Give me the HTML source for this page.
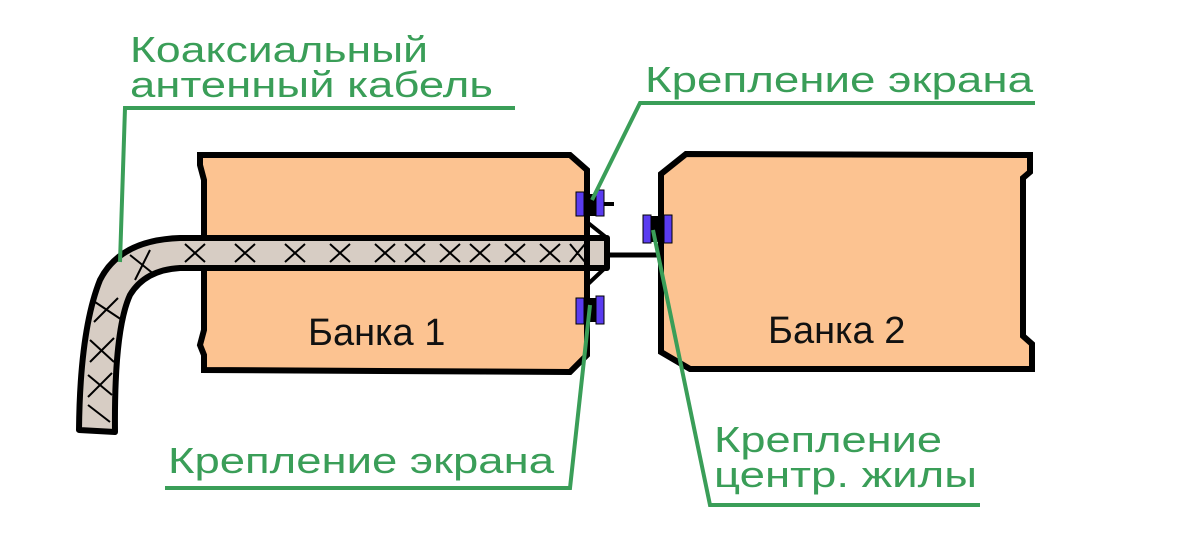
<!DOCTYPE html>
<html><head><meta charset="utf-8"><style>html,body{margin:0;padding:0;background:#fff}svg{display:block}</style></head>
<body>
<svg width="1181" height="535" viewBox="0 0 1181 535" xmlns="http://www.w3.org/2000/svg" font-family="Liberation Sans, sans-serif">
<path d="M200,155 L570,155 L587,170 L587,355 L570,372 L204,370 L204,355 L200,345 L204,330 L204,180 L200,165 Z" fill="#fcc391" stroke="#000" stroke-width="6" stroke-linejoin="miter"/>
<path d="M686,154 L1030,155 L1030,172 L1023,178 L1023,336 L1032,344 L1032,369 L690,369 L661,352 L661,174 Z" fill="#fcc391" stroke="#000" stroke-width="6"/>
<text x="308" y="345" font-size="38" fill="#111">Банка 1</text>
<text x="768" y="343" font-size="38" fill="#111">Банка 2</text>
<path d="M607,238 L180,238 Q120,240 100,280 Q80,330 79,430 L115,432 Q114,330 130,295 Q145,270 180,268 L607,268 Z" fill="#d7cdc4" stroke="#000" stroke-width="6" stroke-linejoin="round"/>
<g stroke="#000" stroke-width="2" fill="none">
<path d="M185,244 L205,262 M205,244 L185,262 M235,244 L255,262 M255,244 L235,262 M285,244 L305,262 M305,244 L285,262 M330,244 L350,262 M350,244 L330,262 M375,244 L395,262 M395,244 L375,262 M405,244 L425,262 M425,244 L405,262 M440,244 L460,262 M460,244 L440,262 M470,244 L490,262 M490,244 L470,262 M505,244 L525,262 M525,244 L505,262 M540,244 L560,262 M560,244 L540,262 M570,244 L585,262 M585,244 L570,262"/>
<path d="M130,255 L155,275 M150,250 L135,280 M92,300 L122,320 M118,298 L94,322 M90,340 L114,362 M114,338 L90,362 M88,375 L112,395 M112,373 L88,397 M88,405 L110,422"/>
</g>
<line x1="587" y1="238" x2="587" y2="268" stroke="#000" stroke-width="6"/>
<line x1="607" y1="255" x2="657" y2="255" stroke="#000" stroke-width="5"/>
<line x1="587" y1="222" x2="607" y2="238" stroke="#000" stroke-width="4"/>
<line x1="587" y1="285" x2="605" y2="268" stroke="#000" stroke-width="4"/>
<g fill="#5a3cf0" stroke="#000" stroke-width="1">
<rect x="576" y="192" width="8" height="24"/><rect x="596" y="190" width="8" height="26"/>
<rect x="576" y="298" width="8" height="26"/><rect x="596" y="296" width="8" height="28"/>
<rect x="643" y="215" width="8" height="28"/><rect x="664" y="215" width="8" height="28"/>
</g>
<rect x="584" y="194" width="12" height="22" fill="#000"/>
<rect x="584" y="298" width="12" height="24" fill="#000"/>
<rect x="651" y="216" width="13" height="26" fill="#000"/>
<rect x="604" y="202" width="10" height="4" fill="#000"/>
<g stroke="#3a9e58" stroke-width="4" fill="none">
<path d="M515,108 L125,108 L120,262"/>
<path d="M1035,103 L640,103 L592,200"/>
<path d="M165,488 L570,488 L590,305"/>
<path d="M980,505 L710,505 L653,230"/>
</g>
<g fill="#3a9e58" font-size="36">
<text x="130" y="62" textLength="298" lengthAdjust="spacingAndGlyphs">Коаксиальный</text>
<text x="130" y="97" textLength="363" lengthAdjust="spacingAndGlyphs">антенный кабель</text>
<text x="645" y="92" textLength="388" lengthAdjust="spacingAndGlyphs">Крепление экрана</text>
<text x="168" y="473" textLength="386" lengthAdjust="spacingAndGlyphs">Крепление экрана</text>
<text x="714" y="452" textLength="228" lengthAdjust="spacingAndGlyphs">Крепление</text>
<text x="714" y="487" textLength="263" lengthAdjust="spacingAndGlyphs">центр. жилы</text>
</g>
</svg>
</body></html>
